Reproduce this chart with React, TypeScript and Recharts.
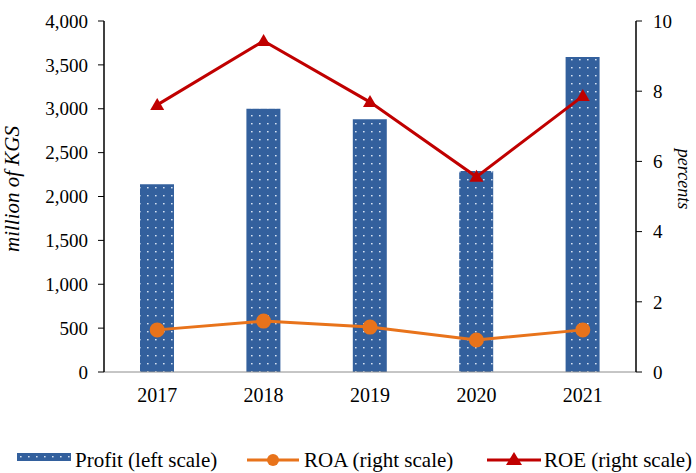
import React from 'react';
import { ComposedChart, Bar, Line, XAxis, YAxis, Label } from 'recharts';

const years = ['2017', '2018', '2019', '2020', '2021'];
const profit = [2140, 3000, 2880, 2290, 3590];
const roa = [1.2, 1.45, 1.28, 0.91, 1.2];
const roe = [7.61, 9.43, 7.69, 5.56, 7.86];
const leftTicks = [0, 500, 1000, 1500, 2000, 2500, 3000, 3500, 4000];
const rightTicks = [0, 2, 4, 6, 8, 10];

const data = years.map((y, i) => ({ year: y, profit: profit[i], roa: roa[i], roe: roe[i] }));

const FONT = 'Liberation Serif, Times New Roman, DejaVu Serif, serif';
const BLUE = '#33609d';
const ORANGE = '#e8731b';
const RED = '#c00000';

const Triangle = (props: any) => {
  const { cx, cy } = props;
  if (cx == null || cy == null) return null;
  return <path d={`M${cx},${cy - 7} L${cx + 7},${cy + 5} L${cx - 7},${cy + 5} Z`} fill={RED} />;
};

const DotPattern = ({ id }: { id: string }) => (
  <pattern id={id} width="8" height="8" patternUnits="userSpaceOnUse">
    <rect width="8" height="8" fill={BLUE} />
    <rect x="3" y="3" width="1.6" height="1.4" fill="#d6e2f2" />
  </pattern>
);

const App: React.FC = () => {
  return (
    <div style={{ position: 'absolute', left: 0, top: 0, width: 696, height: 473, background: '#fff', fontFamily: FONT }}>
      <ComposedChart
        width={696}
        height={473}
        data={data}
        margin={{ top: 21, right: 20, left: 24, bottom: 71 }}
        style={{ fontFamily: FONT }}
      >
        <defs>
          <DotPattern id="dots" />
        </defs>
        <XAxis
          dataKey="year"
          tickLine={false}
          axisLine={{ stroke: '#8c8c8c' }}
          tick={{ fill: '#000', fontSize: 20, fontFamily: FONT }}
          tickMargin={10}
          height={30}
        />
        <YAxis
          yAxisId="left"
          domain={[0, 4000]}
          ticks={leftTicks}
          interval={0}
          width={80}
          axisLine={{ stroke: '#000', strokeWidth: 1.5 }}
          tickLine={{ stroke: '#000' }}
          tickSize={6}
          tickMargin={10}
          tick={{ fill: '#000', fontSize: 19, fontFamily: FONT }}
          tickFormatter={(v: number) => v.toLocaleString('en-US')}
        >
          <Label
            content={() => (
              <text
                x={19}
                y={189}
                transform="rotate(-90 19 189)"
                textAnchor="middle"
                style={{ fontStyle: 'italic', fontSize: 21, fontFamily: FONT, fill: '#000' }}
              >
                million of KGS
              </text>
            )}
          />
        </YAxis>
        <YAxis
          yAxisId="right"
          orientation="right"
          domain={[0, 10]}
          ticks={rightTicks}
          interval={0}
          width={40}
          axisLine={{ stroke: '#000', strokeWidth: 1.5 }}
          tickLine={{ stroke: '#000' }}
          tickSize={6}
          tickMargin={11}
          tick={{ fill: '#000', fontSize: 19, fontFamily: FONT }}
        >
          <Label
            content={() => (
              <text
                x={678}
                y={179}
                transform="rotate(90 678 179)"
                textAnchor="middle"
                style={{ fontStyle: 'italic', fontSize: 18, fontFamily: FONT, fill: '#000' }}
              >
                percents
              </text>
            )}
          />
        </YAxis>
        <Bar yAxisId="left" dataKey="profit" fill="url(#dots)" barSize={34} isAnimationActive={false} />
        <Line
          yAxisId="right"
          dataKey="roa"
          stroke={ORANGE}
          strokeWidth={3}
          dot={{ r: 6, fill: ORANGE, stroke: ORANGE }}
          isAnimationActive={false}
        />
        <Line
          yAxisId="right"
          dataKey="roe"
          stroke={RED}
          strokeWidth={3}
          dot={<Triangle />}
          isAnimationActive={false}
        />
      </ComposedChart>
      <div style={{ position: 'absolute', top: 448, left: 0, width: 696, height: 24, fontSize: 21, lineHeight: '24px', color: '#000' }}>
        <svg style={{ position: 'absolute', left: 17, top: 5 }} width="54" height="8">
          <defs>
            <DotPattern id="dotsLegend" />
          </defs>
          <rect width="54" height="8" fill="url(#dotsLegend)" />
        </svg>
        <span style={{ position: 'absolute', left: 75, top: 0, whiteSpace: 'nowrap' }}>Profit (left scale)</span>
        <svg style={{ position: 'absolute', left: 247, top: 2 }} width="52" height="20">
          <line x1="0" y1="10" x2="52" y2="10" stroke={ORANGE} strokeWidth="3" />
          <circle cx="26" cy="10" r="6" fill={ORANGE} />
        </svg>
        <span style={{ position: 'absolute', left: 304, top: 0, whiteSpace: 'nowrap' }}>ROA (right scale)</span>
        <svg style={{ position: 'absolute', left: 487, top: 2 }} width="54" height="20">
          <line x1="0" y1="10" x2="54" y2="10" stroke={RED} strokeWidth="3" />
          <path d="M27,2 L35,15 L19,15 Z" fill={RED} />
        </svg>
        <span style={{ position: 'absolute', left: 544, top: 0, whiteSpace: 'nowrap' }}>ROE (right scale)</span>
      </div>
    </div>
  );
};

export default App;
